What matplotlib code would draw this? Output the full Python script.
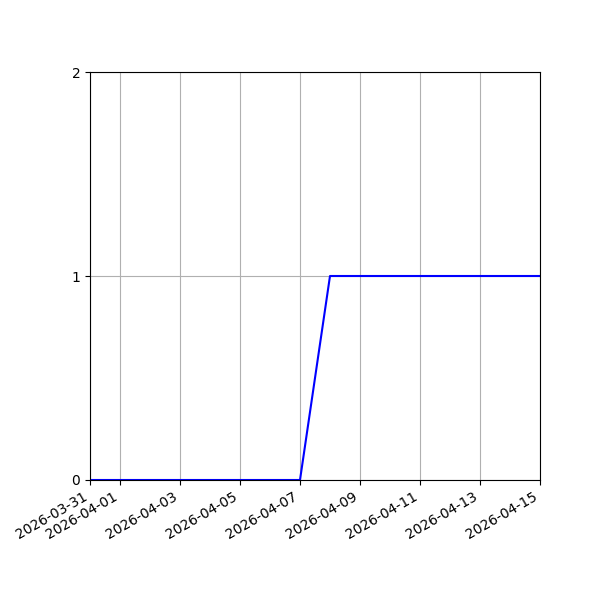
import numpy as np
import pandas as pd
import matplotlib
matplotlib.use("Agg")
import matplotlib.pyplot as plt
import matplotlib.dates as mdates

# Daily values
dates = pd.date_range("2026-03-31", "2026-04-15", freq="D")
values = [0, 0, 0, 0, 0, 0, 0, 0, 1, 1, 1, 1, 1, 1, 1, 1]

tick_dates = pd.to_datetime(["2026-03-31", "2026-04-01", "2026-04-03", "2026-04-05",
                             "2026-04-07", "2026-04-09", "2026-04-11", "2026-04-13",
                             "2026-04-15"])

fig, ax = plt.subplots(figsize=(6, 6), dpi=100)
ax.plot(dates, values, color="blue")
ax.set_xlim(dates[0], dates[-1])
ax.set_ylim(0, 2)
ax.set_yticks([0, 1, 2])
ax.set_xticks(tick_dates)
ax.xaxis.set_major_formatter(mdates.DateFormatter("%Y-%m-%d"))
ax.grid(True)
fig.autofmt_xdate()
fig.subplots_adjust(left=0.15, right=0.9, top=0.88, bottom=0.2)
fig.savefig("out.png", dpi=100)
